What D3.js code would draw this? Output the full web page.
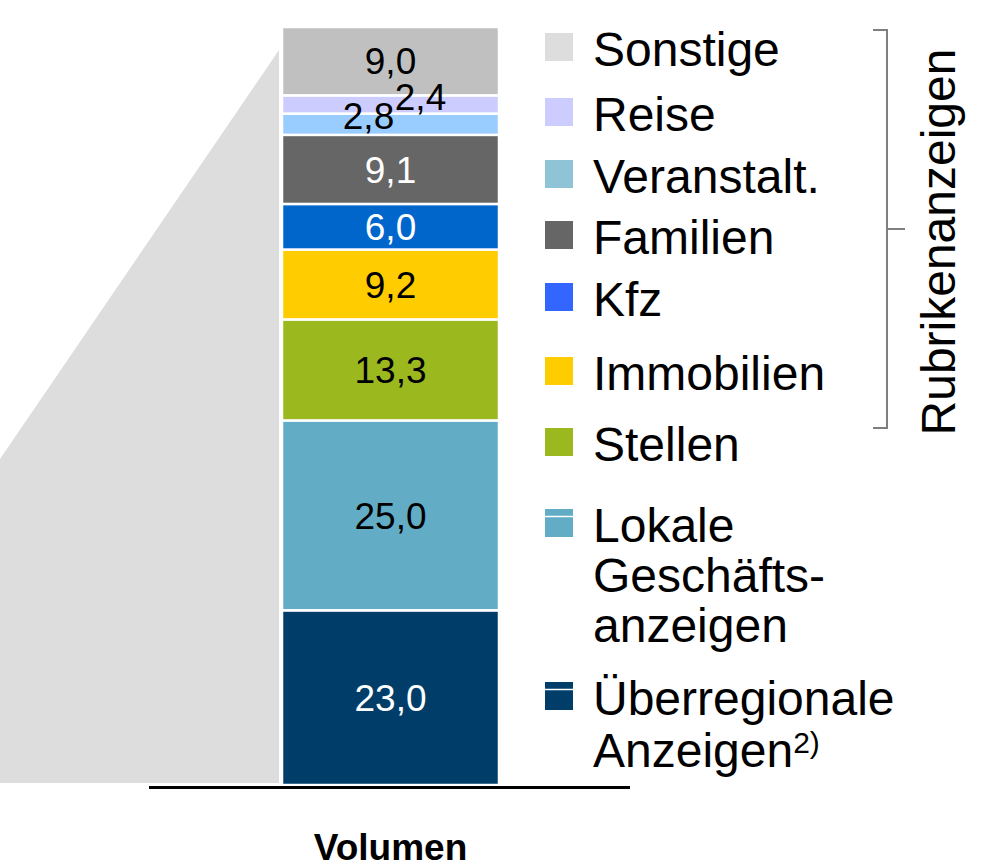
<!DOCTYPE html>
<html><head><meta charset="utf-8">
<script src="https://cdn.jsdelivr.net/npm/d3@7"></script>
<style>html,body{margin:0;padding:0;background:#fff;}svg{display:block;font-family:"Liberation Sans",Arial,sans-serif;}</style>
</head><body>
<svg id="c" width="982" height="867"></svg>
<script>
// ---- data (bottom to top) ----
const categories = ["Überregionale Anzeigen", "Lokale Geschäftsanzeigen", "Stellen", "Immobilien", "Kfz", "Familien", "Veranstalt.", "Reise", "Sonstige"];
const values = [23.0, 25.0, 13.3, 9.2, 6.0, 9.1, 2.8, 2.4, 9.0];
const valueLabels = ["23,0", "25,0", "13,3", "9,2", "6,0", "9,1", "2,8", "2,4", "9,0"];
const barColors = ["#003e69", "#62acc6", "#9bb91f", "#ffcc00", "#0066cc", "#666666", "#99ccff", "#ccccff", "#c0c0c0"];
const labelColors = ["#fff", "#000", "#000", "#000", "#fff", "#fff", "#000", "#000", "#000"];
// legend (top to bottom)
const legendLines = [["Sonstige"], ["Reise"], ["Veranstalt."], ["Familien"], ["Kfz"], ["Immobilien"], ["Stellen"], ["Lokale", "Geschäfts-", "anzeigen"], ["Überregionale", "Anzeigen"]];
const legendColors = ["#dddddd", "#ccccff", "#8ec4d6", "#666666", "#3366ff", "#ffcc00", "#9bb91f", "#62acc6", "#003e69"];
const legendStripe = [false, false, false, false, false, false, false, true, true];
const groupLabel = "Rubrikenanzeigen";
const axisLabel = "Volumen";

// ---- layout ----
const svg = d3.select("#c");
const barX0 = 282, barX1 = 499, barBottom = 785, barTop = 27;
const total = d3.sum(values);
const y = d3.scaleLinear().domain([0, total]).range([barBottom, barTop]);
const x = d3.scaleBand().domain([axisLabel]).range([barX0, barX1]).padding(0);

const stacked = [];
let acc = 0;
values.forEach((v, i) => { stacked.push({i, v, y0: acc, y1: acc + v}); acc += v; });

// grey wedge (connector from previous column)
const wedgeTopY = 50;
svg.append("path")
  .attr("d", `M${barX0 - 3},${wedgeTopY} L0,${459} L0,${barBottom - 2} L${barX0 - 3},${barBottom - 2} Z`)
  .attr("fill", "#dddddd");

// bar segments
svg.append("g").selectAll("rect").data(stacked).join("rect")
  .attr("x", x(axisLabel))
  .attr("width", x.bandwidth())
  .attr("y", d => y(d.y1))
  .attr("height", d => y(d.y0) - y(d.y1))
  .attr("fill", d => barColors[d.i])
  .attr("stroke", "#fff").attr("stroke-width", 2.5);

// value labels
const labelOffsets = {6: [-22, -9], 7: [30, -8]};
svg.append("g").selectAll("text").data(stacked).join("text")
  .attr("x", d => x(axisLabel) + x.bandwidth() / 2 + (labelOffsets[d.i] ? labelOffsets[d.i][0] : 0))
  .attr("y", d => (y(d.y0) + y(d.y1)) / 2 + (labelOffsets[d.i] ? labelOffsets[d.i][1] : 0))
  .attr("dy", "0.36em")
  .attr("text-anchor", "middle")
  .attr("font-size", 37)
  .attr("fill", d => labelColors[d.i])
  .text(d => valueLabels[d.i]);

// baseline axis
svg.append("line").attr("x1", 149).attr("x2", 630).attr("y1", 787.5).attr("y2", 787.5)
  .attr("stroke", "#000").attr("stroke-width", 3);
svg.append("text").attr("x", (barX0 + barX1) / 2).attr("y", 860).attr("text-anchor", "middle")
  .attr("font-size", 37).attr("font-weight", "bold").attr("fill", "#000").text(axisLabel);

// legend
const legendTops = [33, 98, 160, 221, 283, 357, 428, 509, 682];
const lineGap = [0, 0, 0, 0, 0, 0, 0, 50, 52];
const lg = svg.append("g");
legendLines.forEach((lines, k) => {
  const t = legendTops[k];
  lg.append("rect").attr("x", 545).attr("y", t).attr("width", 28).attr("height", 28).attr("fill", legendColors[k]);
  if (legendStripe[k]) lg.append("line").attr("x1", 545).attr("x2", 573).attr("y1", t + 7.5).attr("y2", t + 7.5).attr("stroke", "#fff").attr("stroke-width", 1.5);
  lines.forEach((ln, j) => {
    const tx = lg.append("text").attr("x", 593).attr("y", t + 33 + j * lineGap[k]).attr("font-size", 48).attr("fill", "#000").text(ln);
    if (k === 8 && j === 1) tx.append("tspan").attr("font-size", 30).attr("dy", -14).text("2)");
  });
});

// bracket
const br = svg.append("g").attr("stroke", "#7f7f7f").attr("stroke-width", 2).attr("fill", "none");
br.append("path").attr("d", "M873,30 L887,30 L887,428 L873,428");
br.append("line").attr("x1", 887).attr("x2", 905).attr("y1", 229).attr("y2", 229);
svg.append("text").attr("transform", "translate(955,242) rotate(-90)").attr("text-anchor", "middle")
  .attr("font-size", 48).attr("fill", "#000").text(groupLabel);
</script>
</body></html>
